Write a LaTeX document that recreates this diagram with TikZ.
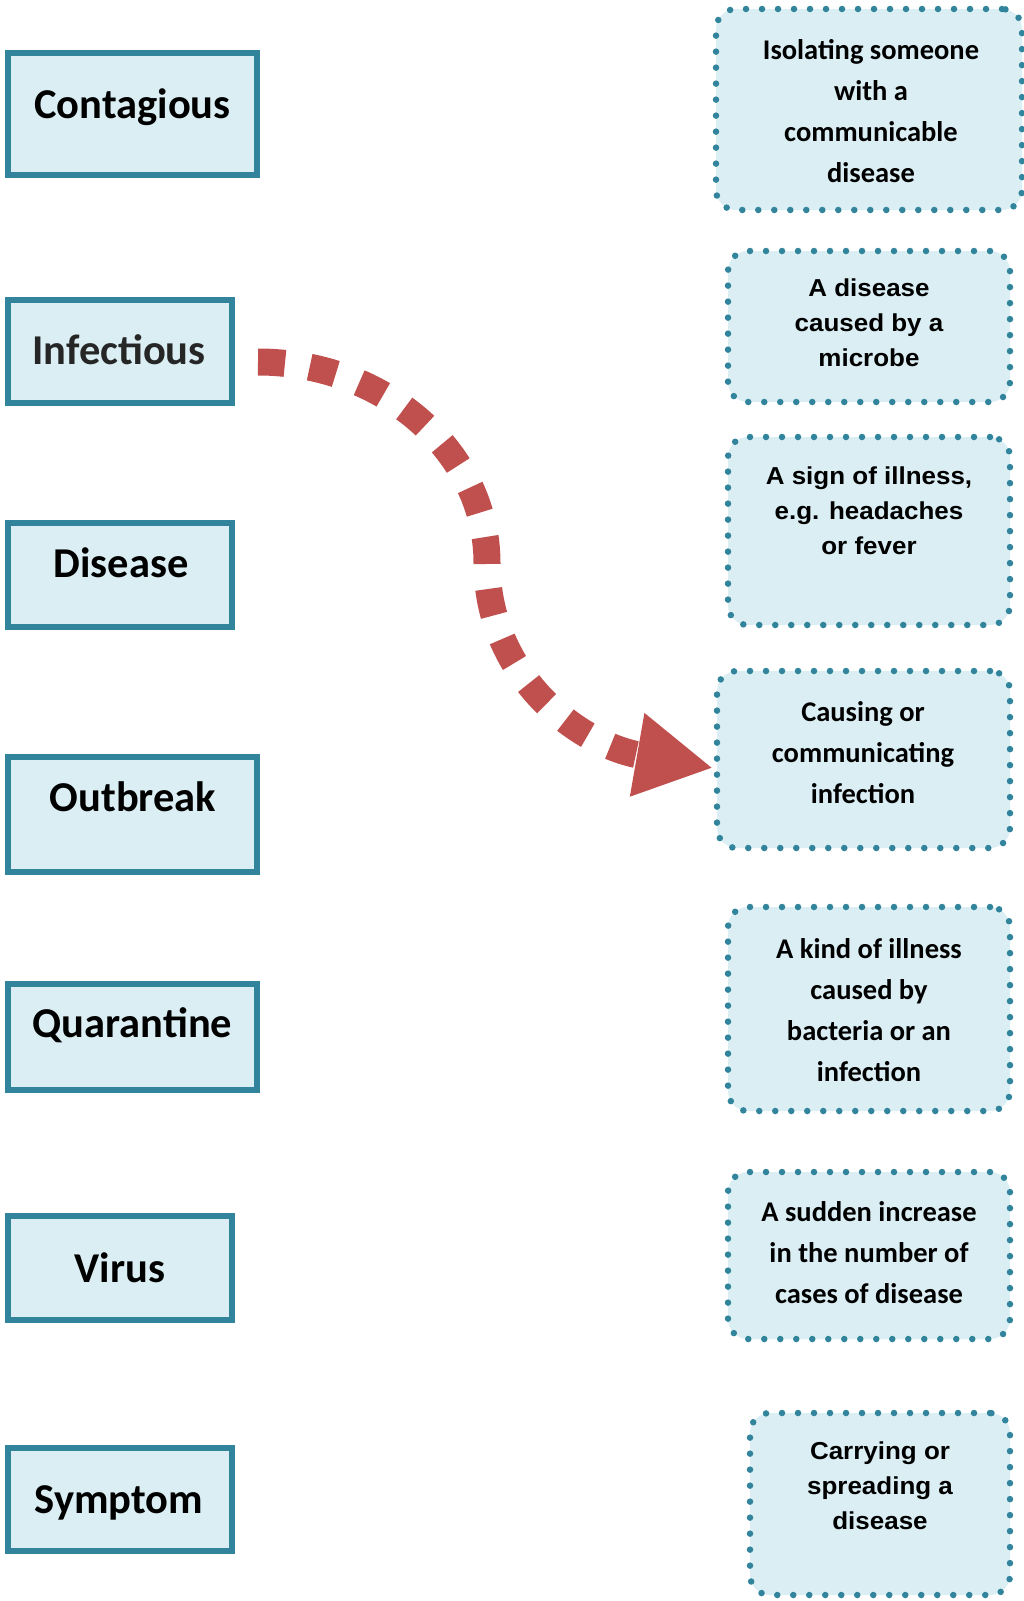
\documentclass[tikz,border=0pt]{standalone}
\usepackage{fontspec}
\setmainfont{Carlito}
\newfontfamily\calib{Carlito}
\newfontfamily\arialx[FakeStretch=1.06]{Liberation Sans}
\usetikzlibrary{arrows.meta}
\definecolor{boxedge}{HTML}{31849B}
\definecolor{boxfill}{HTML}{DAEEF3}
\definecolor{arrowred}{HTML}{C0504D}
\begin{document}
\begin{tikzpicture}[x=1pt,y=-1pt,
  lbox/.style={draw=boxedge, line width=6pt, fill=boxfill, rectangle, outer sep=0pt, inner sep=0pt},
  rbox/.style={draw=boxedge, line width=6.5pt, dash pattern=on 0pt off 16pt, line cap=round, fill=boxfill, rounded corners=20pt, rectangle, outer sep=0pt, inner sep=0pt},
  lword/.style={font=\calib\bfseries\fontsize{42.5}{50}\selectfont, anchor=base, inner sep=0pt},
  cdef/.style={font=\calib\bfseries\fontsize{28.5}{41}\selectfont, align=center, inner sep=0pt},
  adef/.style={font=\arialx\bfseries\fontsize{24.5}{35}\selectfont, align=center, inner sep=0pt},
  link/.style={draw=arrowred, line width=27pt, dash pattern=on 27pt off 25pt, -{Triangle[length=77pt,width=79pt]}}
]
\useasboundingbox (0,0) rectangle (1024,1601);

% left terms
\node[lbox, minimum width=249pt, minimum height=122pt] (contagious) at (132.5,114) {};
\node[lword] (wcontagious) at (132.5,118) {Contagious};
\node[lbox, minimum width=224pt, minimum height=103.5pt] (infectious) at (120,351.5) {};
\node[lword, text=black!85] (winfectious) at (119,364) {Infectious};
\node[lbox, minimum width=224pt, minimum height=104pt] (disease) at (120,575) {};
\node[lword] (wdisease) at (121,577) {Disease};
\node[lbox, minimum width=249pt, minimum height=115pt] (outbreak) at (132.5,814.5) {};
\node[lword] (woutbreak) at (133,811) {Outbreak};
\node[lbox, minimum width=249pt, minimum height=106pt] (quarantine) at (132.5,1037) {};
\node[lword] (wquarantine) at (132.5,1037) {Quarantine};
\node[lbox, minimum width=224pt, minimum height=104pt] (virus) at (120,1268) {};
\node[lword] (wvirus) at (120,1282) {Virus};
\node[lbox, minimum width=224pt, minimum height=103pt] (symptom) at (120,1499.5) {};
\node[lword] (wsymptom) at (119,1513) {Symptom};

% right definitions
\node[rbox, minimum width=306pt, minimum height=201pt] (r1) at (869,109.5) {};
\node[cdef] (t1) at (871,111.5) {Isolating someone\\with a\\communicable\\disease};
\node[rbox, minimum width=282pt, minimum height=151pt] (r2) at (869,326.5) {};
\node[adef] (t2) at (869,322.5) {A disease\\caused by a\\microbe};
\node[rbox, minimum width=282pt, minimum height=188pt] (r3) at (869,531) {};
\node[adef] (t3) at (869,510.5) {A sign of illness,\\e.g. headaches\\or fever};
\node[rbox, minimum width=293pt, minimum height=177pt] (r4) at (863.5,759.5) {};
\node[cdef] (t4) at (863,753) {Causing or\\communicating\\infection};
\node[rbox, minimum width=282pt, minimum height=204pt] (r5) at (869,1009) {};
\node[cdef] (t5) at (869,1010.5) {A kind of illness\\caused by\\bacteria or an\\infection};
\node[rbox, minimum width=282pt, minimum height=167pt] (r6) at (869,1255.5) {};
\node[cdef] (t6) at (869,1253) {A sudden increase\\in the number of\\cases of disease};
\node[rbox, minimum width=260pt, minimum height=182pt] (r7) at (880,1504) {};
\node[adef] (t7) at (880,1485.5) {Carrying or\\spreading a\\disease};

% connector
\coordinate (bend) at (487,563);
\draw[link] ([xshift=26pt,yshift=-10.5pt]infectious.east) .. controls (384,362) and (487,452) .. (bend)
  .. controls (487,673) and (575,744) .. ([xshift=-4pt,yshift=-8.5pt]r4.west);
\end{tikzpicture}
\end{document}
